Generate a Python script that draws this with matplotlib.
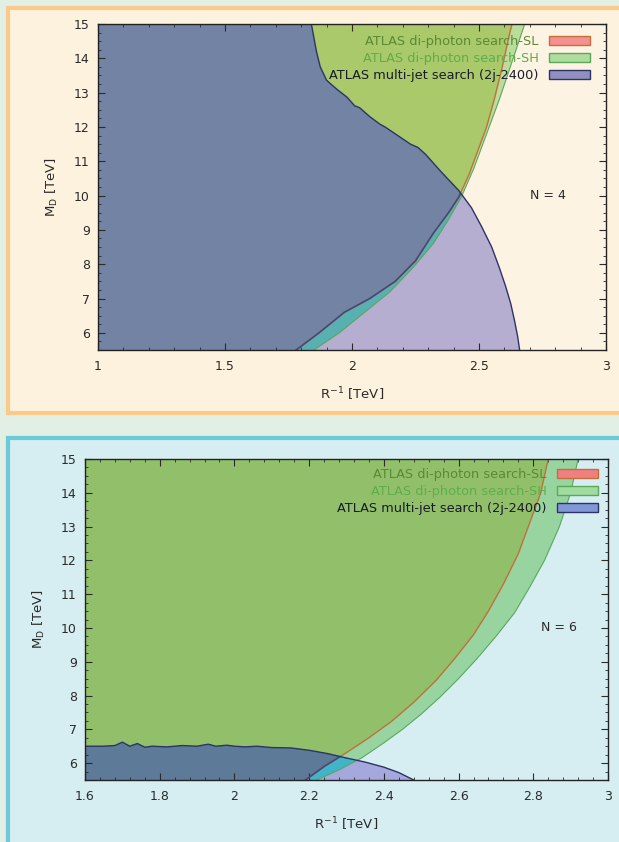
import numpy as np
import matplotlib.pyplot as plt
from matplotlib.patches import Rectangle, Patch
from matplotlib.ticker import MultipleLocator, FuncFormatter

# Bordes de exclusión, N = 4  (x = R^-1 [TeV], y = M_D [TeV])
sl4_x = [1.78, 1.87, 1.97, 2.07, 2.17, 2.25, 2.32, 2.38, 2.42, 2.46, 2.49, 2.53, 2.56, 2.59, 2.62, 2.63]
sl4_y = [5.5, 6.0, 6.6, 7.0, 7.5, 8.1, 8.9, 9.5, 9.95, 10.6, 11.2, 12.0, 12.8, 13.7, 14.7, 15.0]
sh4_x = [1.85, 1.95, 2.05, 2.15, 2.24, 2.32, 2.38, 2.43, 2.48, 2.53, 2.58, 2.63, 2.68]
sh4_y = [5.5, 6.0, 6.6, 7.2, 7.9, 8.6, 9.3, 9.95, 10.8, 11.8, 12.8, 13.9, 15.0]
mj4_x = [1.84, 1.85, 1.86, 1.875, 1.90, 1.94, 1.98, 2.01, 2.03, 2.07, 2.11, 2.13, 2.17,
         2.23, 2.26, 2.29, 2.35, 2.42, 2.47, 2.51, 2.55, 2.58, 2.605, 2.625, 2.64, 2.652, 2.66]
mj4_y = [15.0, 14.6, 14.2, 13.75, 13.36, 13.1, 12.87, 12.62, 12.56, 12.3, 12.08, 12.0, 11.8,
         11.5, 11.4, 11.2, 10.7, 10.15, 9.65, 9.1, 8.5, 7.9, 7.35, 6.85, 6.35, 5.9, 5.5]

# Bordes de exclusión, N = 6
sl6_x = [2.19, 2.24, 2.30, 2.36, 2.42, 2.48, 2.54, 2.59, 2.64, 2.68, 2.72, 2.76, 2.79, 2.82, 2.84]
sl6_y = [5.5, 5.9, 6.31, 6.75, 7.23, 7.8, 8.45, 9.1, 9.8, 10.5, 11.3, 12.2, 13.1, 14.0, 15.0]
sh6_x = [2.22, 2.28, 2.34, 2.40, 2.45, 2.50, 2.55, 2.60, 2.65, 2.70, 2.75, 2.79, 2.83, 2.87, 2.90, 2.92]
sh6_y = [5.5, 5.8, 6.15, 6.6, 7.0, 7.45, 7.95, 8.5, 9.1, 9.75, 10.45, 11.2, 12.0, 13.0, 14.0, 15.0]
mj6_x = [1.60, 1.65, 1.68, 1.70, 1.72, 1.74, 1.76, 1.78, 1.82, 1.86, 1.90, 1.93, 1.95,
         1.98, 2.00, 2.03, 2.06, 2.10, 2.15, 2.20, 2.25, 2.30, 2.35, 2.40, 2.44, 2.48]
mj6_y = [6.5, 6.5, 6.52, 6.62, 6.5, 6.58, 6.47, 6.5, 6.48, 6.52, 6.5, 6.56, 6.5,
         6.53, 6.5, 6.48, 6.5, 6.46, 6.45, 6.38, 6.28, 6.15, 6.03, 5.88, 5.72, 5.5]

labels = ['ATLAS di-photon search-SL', 'ATLAS di-photon search-SH',
          'ATLAS multi-jet search (2j-2400)']

plt.rcParams['font.family'] = 'DejaVu Sans'
fig = plt.figure(figsize=(6.19, 8.42), dpi=100)
fig.patch.set_facecolor('#e2efe4')

W, H = 619, 842
def caja(x0, y0, x1, y1, fc, ec):
    fig.add_artist(Rectangle((x0 / W, 1 - y1 / H), (x1 - x0) / W, (y1 - y0) / H,
                             transform=fig.transFigure, facecolor=fc, edgecolor=ec,
                             lw=3, zorder=0))

caja(8, 8, 632, 413, '#fdf2de', '#fbc98a')
caja(8, 438, 632, 852, '#d6eef2', '#6ccad8')


def region(xs, ys, xmin):
    # zona excluida: lo que queda a la izquierda de la curva
    return list(xs) + [xmin, xmin], list(ys) + [ys[-1], ys[0]]


def panel(rect, xlim, sl, sh, mj, col, xmaj, etiqueta, xn, leg_anchor, leg_cols):
    ax = fig.add_axes(rect)
    ax.set_facecolor(col['bg'])
    x0 = xlim[0] - 0.05
    shx, shy = region(*sh, x0)
    slx, sly = region(*sl, x0)
    mjx, mjy = region(*mj, x0)

    ax.fill(shx, shy, color=col['sh'], lw=0)
    ax.fill(slx, sly, color=col['sl'], lw=0)
    mj_patch = ax.fill(mjx, mjy, color=col['mj'], lw=0)[0]
    p1 = ax.fill(shx, shy, color=col['mj_sh'], lw=0)[0]
    p1.set_clip_path(mj_patch)
    p2 = ax.fill(slx, sly, color=col['mj_sl'], lw=0)[0]
    p2.set_clip_path(mj_patch)

    ax.plot(sh[0], sh[1], color='#5aa85a', lw=0.8)
    ax.plot(sl[0], sl[1], color='#c0703a', lw=1.0)
    l2, = ax.plot(sl[0], sl[1], color='#4a4478', lw=1.2)
    l2.set_clip_path(mj_patch)
    ax.plot(mj[0], mj[1], color='#2c3466', lw=1.0)

    ax.set_xlim(*xlim)
    ax.set_ylim(5.5, 15)
    ax.xaxis.set_major_locator(MultipleLocator(xmaj))
    ax.xaxis.set_minor_locator(MultipleLocator(xmaj / 5))
    ax.yaxis.set_major_locator(MultipleLocator(1))
    ax.yaxis.set_minor_locator(MultipleLocator(0.25))
    fmt = FuncFormatter(lambda v, p: '%g' % round(v, 3))
    ax.xaxis.set_major_formatter(fmt)
    ax.yaxis.set_major_formatter(fmt)
    ax.tick_params(which='both', direction='in', top=True, right=True,
                   labelsize=9, colors='#2a2a2a')
    ax.tick_params(axis='x', pad=7)
    ax.tick_params(axis='y', pad=6)
    ax.tick_params(which='major', length=5, width=0.8)
    ax.tick_params(which='minor', length=2.5, width=0.6)
    for s in ax.spines.values():
        s.set_color('#222222')
        s.set_linewidth(1.0)
    ax.set_xlabel(r'R$^{-1}$ [TeV]', fontsize=9.5, color='#2a2a2a', labelpad=9)
    ax.set_ylabel(r'M$_{\rm D}$ [TeV]', fontsize=9.5, color='#2a2a2a', labelpad=10)
    ax.text(xn, 10, etiqueta, fontsize=9, color='#2a2a2a', ha='center', va='center')

    handles = [Patch(facecolor=leg_cols[0], edgecolor='#c0703a', lw=1),
               Patch(facecolor=leg_cols[1], edgecolor='#5aa85a', lw=1),
               Patch(facecolor=leg_cols[2], edgecolor='#2c3466', lw=1)]
    ax.legend(handles, labels, loc='upper right', bbox_to_anchor=leg_anchor,
              markerfirst=False, frameon=False, fontsize=9.3, handlelength=3.2,
              handleheight=0.75, handletextpad=0.8, labelspacing=0.3,
              borderaxespad=0, borderpad=0,
              labelcolor=['#5b8a34', '#5fae4a', '#1a1a2a'])
    return ax


cols4 = dict(bg='#fdf3e3', sl='#a9c96a', sh='#bcdc9c', mj='#b6aed0',
             mj_sh='#58b0b0', mj_sl='#7283a3')
cols6 = dict(bg='#d6eef2', sl='#92c06a', sh='#98d4a0', mj='#a4a8dc',
             mj_sh='#40b4c8', mj_sl='#5d7a98')

panel([98 / W, 1 - 350 / H, 508 / W, 326 / H], (1, 3),
      (sl4_x, sl4_y), (sh4_x, sh4_y), (mj4_x, mj4_y), cols4, 0.5, 'N = 4', 2.77,
      (0.969, 0.966), ['#f49090', '#b0dca0', '#9090c0'])
panel([85 / W, 1 - 780 / H, 523 / W, 321 / H], (1.6, 3),
      (sl6_x, sl6_y), (sh6_x, sh6_y), (mj6_x, mj6_y), cols6, 0.2, 'N = 6', 2.87,
      (0.981, 0.972), ['#f08080', '#a0dca0', '#8098d8'])

plt.savefig('out.png', dpi=100, facecolor=fig.get_facecolor())
